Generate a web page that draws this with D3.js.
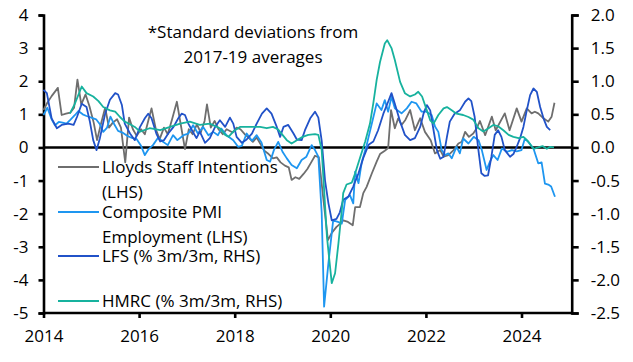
<!DOCTYPE html>
<html>
<head>
<meta charset="utf-8">
<script src="https://cdn.jsdelivr.net/npm/d3@7"></script>
<style>
  body { margin: 0; background: #fff; }
  svg text { font-family: "Open Sans", sans-serif; fill: #000; }
</style>
</head>
<body>
<script>
// values: [decimal year, value]
// Lloyds staff intentions, std devs (LHS)
const lloyds = [
  [2014.00,1.13],[2014.08,1.35],[2014.17,1.55],[2014.30,1.80],[2014.38,0.98],[2014.47,1.02],
  [2014.56,1.05],[2014.64,1.20],[2014.71,2.05],[2014.79,1.30],[2014.88,1.60],[2014.96,1.25],
  [2015.05,0.75],[2015.12,0.22],[2015.20,0.70],[2015.29,1.20],[2015.37,0.60],[2015.45,0.75],
  [2015.54,0.85],[2015.62,0.60],[2015.71,-0.45],[2015.79,0.90],[2015.87,0.55],[2015.95,0.35],
  [2016.04,0.55],[2016.12,0.40],[2016.20,0.85],[2016.26,1.18],[2016.35,0.55],[2016.43,0.25],
  [2016.52,0.60],[2016.60,0.40],[2016.69,0.85],[2016.79,1.38],[2016.87,0.70],[2016.96,-0.05],
  [2017.04,0.55],[2017.12,0.40],[2017.21,0.70],[2017.29,0.45],[2017.37,0.80],[2017.42,1.30],
  [2017.50,0.60],[2017.58,0.80],[2017.66,0.55],[2017.75,0.40],[2017.83,0.55],[2017.96,0.45],
  [2018.04,0.60],[2018.12,0.55],[2018.21,0.40],[2018.29,0.30],[2018.38,0.17],[2018.46,0.30],
  [2018.54,0.10],[2018.62,-0.10],[2018.71,-0.20],[2018.80,-0.33],[2018.88,-0.30],[2018.96,-0.45],
  [2019.05,-0.55],[2019.13,-0.60],[2019.19,-0.98],[2019.27,-0.90],[2019.35,-0.95],[2019.44,-0.80],
  [2019.52,-0.65],[2019.60,-0.45],[2019.68,-0.25],[2019.76,-0.30],[2019.85,-1.50],[2019.95,-2.80],
  [2020.03,-2.58],[2020.13,-2.40],[2020.21,-2.30],[2020.27,-2.20],[2020.37,-2.25],[2020.47,-2.35],
  [2020.52,-1.80],[2020.62,-1.80],[2020.69,-1.38],[2020.76,-1.19],[2020.87,-0.78],[2020.97,-0.43],
  [2021.04,-0.20],[2021.14,-0.10],[2021.21,-0.02],[2021.27,1.13],[2021.35,0.58],[2021.42,0.88],
  [2021.49,0.68],[2021.57,0.83],[2021.67,1.13],[2021.77,0.52],[2021.88,0.88],[2021.98,0.47],
  [2022.10,0.22],[2022.19,-0.18],[2022.30,-0.08],[2022.37,-0.28],[2022.47,-0.23],[2022.58,-0.08],
  [2022.68,0.12],[2022.75,0.17],[2022.82,0.47],[2022.90,0.32],[2022.99,0.42],[2023.06,0.57],
  [2023.13,0.80],[2023.24,0.37],[2023.38,0.93],[2023.46,0.52],[2023.65,1.03],[2023.75,0.52],
  [2023.90,1.18],[2024.00,0.78],[2024.11,1.18],[2024.21,1.03],[2024.28,1.08],[2024.35,1.03],
  [2024.46,0.88],[2024.56,0.78],[2024.63,0.93],[2024.69,1.35]
];
// Composite PMI employment, std devs (LHS)
const pmi = [
  [2014.00,0.98],[2014.08,1.20],[2014.17,0.85],[2014.24,0.67],[2014.32,0.77],[2014.40,0.75],
  [2014.48,0.72],[2014.56,0.83],[2014.66,0.98],[2014.73,1.10],[2014.82,1.00],[2014.90,0.95],
  [2015.00,0.90],[2015.10,0.85],[2015.18,0.70],[2015.25,0.47],[2015.33,0.60],[2015.40,0.93],
  [2015.48,0.70],[2015.56,0.50],[2015.65,0.45],[2015.75,0.35],[2015.83,0.30],[2015.95,0.25],
  [2016.04,0.05],[2016.12,-0.23],[2016.20,-0.05],[2016.29,0.07],[2016.40,0.30],[2016.50,0.17],
  [2016.60,0.07],[2016.71,0.37],[2016.80,0.22],[2016.93,0.37],[2017.03,0.42],[2017.13,0.67],
  [2017.23,0.42],[2017.34,0.62],[2017.45,0.37],[2017.55,0.47],[2017.65,0.37],[2017.72,0.57],
  [2017.83,0.37],[2017.97,0.22],[2018.07,0.02],[2018.15,0.05],[2018.25,0.42],[2018.36,0.20],
  [2018.46,0.37],[2018.56,0.15],[2018.67,-0.38],[2018.74,-0.43],[2018.82,-0.08],[2018.91,0.17],
  [2019.00,-0.13],[2019.09,-0.33],[2019.19,-0.53],[2019.30,-0.63],[2019.40,-0.38],[2019.50,-0.28],
  [2019.61,0.07],[2019.68,-0.08],[2019.75,-0.28],[2019.82,-1.98],[2019.87,-4.81],[2019.96,-3.50],
  [2020.06,-2.20],[2020.16,-2.25],[2020.24,-2.30],[2020.31,-1.59],[2020.41,-1.44],[2020.48,-1.69],
  [2020.52,-0.73],[2020.59,-1.08],[2020.66,-0.43],[2020.76,0.07],[2020.87,0.73],[2020.97,1.33],
  [2021.07,1.13],[2021.14,1.43],[2021.21,1.08],[2021.28,1.53],[2021.35,1.18],[2021.49,1.03],
  [2021.60,1.18],[2021.70,1.38],[2021.80,1.33],[2021.91,1.08],[2022.01,1.08],[2022.12,0.98],
  [2022.19,0.63],[2022.26,0.47],[2022.33,-0.08],[2022.40,-0.23],[2022.47,-0.18],[2022.54,-0.33],
  [2022.64,0.02],[2022.71,-0.18],[2022.78,0.27],[2022.89,0.12],[2023.00,0.32],[2023.10,0.22],
  [2023.17,-0.08],[2023.27,-0.68],[2023.34,-0.43],[2023.41,-0.23],[2023.50,-0.38],[2023.59,-0.03],
  [2023.70,-0.13],[2023.80,-0.08],[2023.90,-0.12],[2024.00,-0.08],[2024.07,0.27],[2024.14,0.17],
  [2024.25,-0.03],[2024.35,-0.48],[2024.42,-0.45],[2024.49,-1.09],[2024.56,-1.12],[2024.62,-1.18],
  [2024.70,-1.49]
];
// LFS employment, % 3m/3m (RHS)
const lfs = [
  [2014.00,0.87],[2014.07,0.82],[2014.17,0.44],[2014.28,0.29],[2014.38,0.34],[2014.52,0.36],
  [2014.63,0.34],[2014.70,0.46],[2014.80,0.66],[2014.90,0.61],[2014.97,0.39],[2015.04,0.11],
  [2015.11,-0.04],[2015.18,0.14],[2015.29,0.51],[2015.39,0.72],[2015.50,0.82],[2015.56,0.80],
  [2015.64,0.64],[2015.70,0.36],[2015.81,0.21],[2015.91,0.11],[2016.02,0.31],[2016.12,0.44],
  [2016.19,0.51],[2016.26,0.44],[2016.36,0.21],[2016.44,0.09],[2016.52,0.11],[2016.61,0.21],
  [2016.72,0.31],[2016.82,0.44],[2016.89,0.51],[2016.96,0.49],[2017.03,0.36],[2017.12,0.24],
  [2017.20,0.14],[2017.27,0.24],[2017.38,0.07],[2017.48,0.14],[2017.59,0.31],[2017.69,0.41],
  [2017.80,0.31],[2017.90,0.45],[2017.97,0.36],[2018.04,0.16],[2018.15,0.07],[2018.25,0.12],
  [2018.36,0.21],[2018.46,0.36],[2018.57,0.51],[2018.67,0.59],[2018.77,0.51],[2018.88,0.31],
  [2018.95,0.16],[2019.02,0.31],[2019.12,0.34],[2019.23,0.21],[2019.30,0.12],[2019.40,0.11],
  [2019.47,0.26],[2019.58,0.44],[2019.68,0.54],[2019.75,0.45],[2019.82,0.10],[2019.89,-0.50],
  [2019.96,-0.84],[2020.03,-1.10],[2020.13,-1.08],[2020.20,-0.98],[2020.27,-0.79],[2020.38,-0.74],
  [2020.48,-0.59],[2020.59,-0.39],[2020.69,-0.16],[2020.80,0.04],[2020.90,0.09],[2021.00,0.26],
  [2021.11,0.51],[2021.21,0.69],[2021.28,0.82],[2021.35,0.66],[2021.46,0.39],[2021.56,0.19],
  [2021.67,0.11],[2021.77,0.14],[2021.88,0.31],[2021.95,0.51],[2022.02,0.64],[2022.09,0.56],
  [2022.16,0.26],[2022.23,-0.04],[2022.30,-0.17],[2022.37,-0.14],[2022.44,0.16],[2022.50,0.39],
  [2022.60,0.51],[2022.71,0.56],[2022.82,0.69],[2022.89,0.74],[2022.95,0.70],[2023.02,0.46],
  [2023.09,0.01],[2023.16,-0.39],[2023.23,-0.43],[2023.30,-0.42],[2023.37,-0.14],[2023.44,0.19],
  [2023.51,0.26],[2023.58,0.16],[2023.65,-0.04],[2023.76,-0.14],[2023.83,-0.10],[2023.90,0.01],
  [2023.97,0.14],[2024.04,0.31],[2024.11,0.56],[2024.18,0.79],[2024.25,0.89],[2024.32,0.84],
  [2024.39,0.61],[2024.46,0.44],[2024.53,0.31],[2024.60,0.26]
];
// HMRC payrolled employees, % 3m/3m (RHS)
const hmrc = [
  [2014.55,0.51],[2014.65,0.65],[2014.80,0.92],[2014.90,0.82],[2015.04,0.77],[2015.15,0.70],
  [2015.25,0.61],[2015.39,0.56],[2015.50,0.54],[2015.60,0.46],[2015.70,0.39],[2015.81,0.35],
  [2015.91,0.31],[2016.02,0.24],[2016.22,0.29],[2016.44,0.26],[2016.65,0.31],[2016.86,0.36],
  [2017.06,0.39],[2017.27,0.34],[2017.48,0.36],[2017.69,0.29],[2017.80,0.19],[2017.87,0.16],
  [2017.97,0.24],[2018.11,0.31],[2018.32,0.31],[2018.53,0.31],[2018.67,0.29],[2018.80,0.31],
  [2018.91,0.27],[2019.09,0.11],[2019.19,0.06],[2019.30,0.11],[2019.42,0.16],[2019.54,0.19],
  [2019.68,0.20],[2019.75,0.19],[2019.82,-0.04],[2019.93,-1.35],[2020.03,-2.05],[2020.10,-1.90],
  [2020.17,-1.45],[2020.24,-0.95],[2020.27,-0.69],[2020.34,-0.56],[2020.45,-0.53],[2020.52,-0.39],
  [2020.62,-0.16],[2020.73,0.09],[2020.83,0.36],[2020.90,0.67],[2020.97,1.02],[2021.04,1.29],
  [2021.14,1.57],[2021.19,1.62],[2021.28,1.50],[2021.35,1.32],[2021.46,0.99],[2021.56,0.82],
  [2021.67,0.77],[2021.77,0.80],[2021.84,0.84],[2021.92,0.77],[2022.02,0.56],[2022.09,0.41],
  [2022.16,0.36],[2022.26,0.49],[2022.37,0.59],[2022.44,0.61],[2022.54,0.56],[2022.64,0.51],
  [2022.78,0.49],[2022.89,0.46],[2022.99,0.42],[2023.10,0.29],[2023.20,0.24],[2023.31,0.29],
  [2023.41,0.34],[2023.51,0.32],[2023.62,0.26],[2023.73,0.19],[2023.83,0.16],[2023.94,0.14],
  [2024.04,0.16],[2024.14,0.09],[2024.25,-0.02],[2024.35,0.00],[2024.44,0.02],[2024.53,-0.02],
  [2024.60,0.01],[2024.68,0.00]
];

const yearTicks = [2014, 2016, 2018, 2020, 2022, 2024];
const leftTicks = [-5, -4, -3, -2, -1, 0, 1, 2, 3, 4];
const rightTicks = [-2.5, -2.0, -1.5, -1.0, -0.5, 0.0, 0.5, 1.0, 1.5, 2.0];
const legendLabels = [
  ["Lloyds Staff Intentions", "(LHS)"],
  ["Composite PMI", "Employment (LHS)"],
  ["LFS (% 3m/3m, RHS)"],
  ["HMRC (% 3m/3m, RHS)"]
];
const titleLines = ["*Standard deviations from", "2017-19 averages"];

const colors = ["#6e6e6e", "#1e96f0", "#2152c8", "#17b29e"];

const width = 633, height = 362;
const margin = { top: 15, right: 61.3, bottom: 49, left: 43.5 };

const svg = d3.select('body').append('svg')
    .attr('width', width)
    .attr('height', height);

const x = d3.scaleLinear()
    .domain([2014, 2025.05])
    .range([margin.left, width - margin.right]);

const yL = d3.scaleLinear()
    .domain([-5, 4])
    .range([height - margin.bottom, margin.top]);

const yR = d3.scaleLinear()
    .domain([-2.5, 2.0])
    .range([height - margin.bottom, margin.top]);

// axes
const axisL = svg.append('g')
    .attr('transform', 'translate(' + margin.left + ',0)')
    .call(d3.axisLeft(yL).tickValues(leftTicks).tickSize(5).tickPadding(10)
        .tickFormat(d => String(d).replace('\u2212', '-')));

const axisR = svg.append('g')
    .attr('transform', 'translate(' + (width - margin.right) + ',0)')
    .call(d3.axisRight(yR).tickValues(rightTicks).tickSize(7).tickPadding(12)
        .tickFormat(d => d.toFixed(1)));

const axisX = svg.append('g')
    .attr('transform', 'translate(0,' + (height - margin.bottom) + ')')
    .call(d3.axisBottom(x).tickValues(yearTicks).tickSize(5).tickPadding(12)
        .tickFormat(d3.format('d')));

[axisL, axisR, axisX].forEach(g => {
    g.select('.domain').attr('stroke', '#000').attr('stroke-width', 2.6);
    g.selectAll('.tick line').attr('stroke', '#000').attr('stroke-width', 2.6);
    g.selectAll('text').style('font-size', '17px').attr('fill', '#000');
});
axisX.select('.domain').attr('d', 'M' + margin.left + ',0H' + (width - margin.right));

// zero line
svg.append('line')
    .attr('x1', margin.left).attr('x2', width - margin.right)
    .attr('y1', yL(0)).attr('y2', yL(0))
    .attr('stroke', '#000').attr('stroke-width', 2.6);

// series
const lineL = d3.line().x(d => x(d[0])).y(d => yL(d[1]));
const lineR = d3.line().x(d => x(d[0])).y(d => yR(d[1]));

const series = [
    { data: lloyds, line: lineL },
    { data: pmi, line: lineL },
    { data: lfs, line: lineR },
    { data: hmrc, line: lineR }
];

series.forEach((s, i) => {
    svg.append('path')
        .attr('d', s.line(s.data))
        .attr('fill', 'none')
        .attr('stroke', colors[i])
        .attr('stroke-width', 1.8)
        .attr('stroke-linejoin', 'round');
});

// title
svg.append('g').selectAll('text')
    .data(titleLines)
    .join('text')
    .attr('x', 253)
    .attr('y', (d, i) => 38 + i * 25)
    .attr('text-anchor', 'middle')
    .style('font-size', '17px')
    .text(d => d);

// legend
const legendY = [167, 212, 256, 301];
const legend = svg.append('g');
legendLabels.forEach((lines, i) => {
    legend.append('line')
        .attr('x1', 58).attr('x2', 99)
        .attr('y1', legendY[i]).attr('y2', legendY[i])
        .attr('stroke', colors[i]).attr('stroke-width', 1.8);
    lines.forEach((t, j) => {
        legend.append('text')
            .attr('x', 102)
            .attr('y', legendY[i] + 6 + j * 25)
            .style('font-size', '17px')
            .text(t);
    });
});
</script>
</body>
</html>
